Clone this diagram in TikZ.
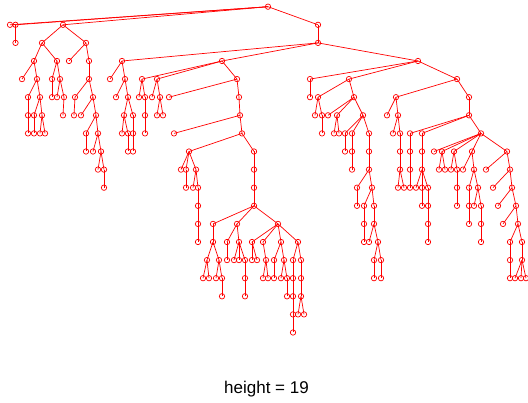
\documentclass[tikz,border=0pt]{standalone}
\usepackage{fontspec}
\setmainfont{Liberation Sans}
\tikzset{
  vtx/.style={circle, draw=red, minimum size=5.4pt, inner sep=0pt, line width=0.7pt},
  edge/.style={red, line width=0.7pt}
}
\newcommand\R[3]{\node[vtx] (#1) at (#2,{6.7+18.1*#3}) {};}
\newcommand\C[4]{\node[vtx] (#1) at (#2,{6.7+18.1*#3}) {}; \draw[edge] (#4.center) -- (#1.center);}
\begin{document}
\begin{tikzpicture}[x=1pt,y=-1pt]
\useasboundingbox (0,0) rectangle (528,403);
\R{r}{268}{0}
% level 1
\C{n1a}{10}{1}{r}\C{n1b}{15.5}{1}{r}\C{n1c}{63}{1}{r}\C{n1d}{318}{1}{r}
% level 2
\C{n2a}{15.5}{2}{n1b}\C{n2b}{42}{2}{n1c}\C{n2c}{86}{2}{n1c}\C{n2d}{318}{2}{n1d}
% level 3
\C{n3a}{34}{3}{n2b}\C{n3b}{57}{3}{n2b}\C{n3c}{69}{3}{n2c}\C{n3d}{89}{3}{n2c}
\C{n3e}{122}{3}{n2d}\C{n3f}{222}{3}{n2d}\C{n3g}{418}{3}{n2d}
% level 4
\C{n4a}{22}{4}{n3a}\C{n4b}{37}{4}{n3a}\C{n4c}{52}{4}{n3b}\C{n4d}{60}{4}{n3b}
\C{n4e}{89}{4}{n3d}\C{n4f}{110}{4}{n3e}\C{n4g}{125}{4}{n3e}
\C{n4h}{142}{4}{n3f}\C{n4i}{157}{4}{n3f}\C{n4j}{237}{4}{n3f}
\C{n4k}{310}{4}{n3g}\C{n4l}{349}{4}{n3g}\C{n4m}{457}{4}{n3g}
% level 5
\C{n5a}{28}{5}{n4b}\C{n5b}{40}{5}{n4b}\C{n5c}{52}{5}{n4c}\C{n5d}{57}{5}{n4d}\C{n5e}{64}{5}{n4d}
\C{n5f}{75}{5}{n4e}\C{n5g}{93}{5}{n4e}\C{n5h}{116}{5}{n4g}\C{n5i}{128}{5}{n4g}
\C{n5j}{139}{5}{n4h}\C{n5k}{145}{5}{n4h}\C{n5l}{152}{5}{n4i}\C{n5m}{160}{5}{n4i}
\C{n5n}{169}{5}{n4j}\C{n5o}{239}{5}{n4j}\C{n5p}{310}{5}{n4k}\C{n5q}{318}{5}{n4l}\C{n5r}{354}{5}{n4l}
\C{n5s}{396}{5}{n4m}\C{n5t}{469}{5}{n4m}
% level 6
\C{n6a}{28}{6}{n5a}\C{n6b}{34}{6}{n5b}\C{n6c}{42}{6}{n5b}\C{n6d}{63}{6}{n5e}\C{n6e}{74}{6}{n5f}
\C{n6f}{81}{6}{n5g}\C{n6g}{96}{6}{n5g}\C{n6h}{124}{6}{n5i}\C{n6i}{133}{6}{n5i}
\C{n6j}{145}{6}{n5k}\C{n6k}{157}{6}{n5m}\C{n6l}{163}{6}{n5m}\C{n6m}{240}{6}{n5o}
\C{n6n}{315}{6}{n5q}\C{n6o}{322}{6}{n5q}\C{n6p}{328}{6}{n5r}\C{n6q}{337}{6}{n5r}\C{n6r}{363}{6}{n5r}
\C{n6s}{387}{6}{n5s}\C{n6t}{398}{6}{n5s}\C{n6u}{469}{6}{n5t}
% level 7
\C{n7a}{28}{7}{n6a}\C{n7b}{34}{7}{n6b}\C{n7c}{40}{7}{n6c}\C{n7d}{45}{7}{n6c}
\C{n7e}{86}{7}{n6g}\C{n7f}{98}{7}{n6g}\C{n7g}{122}{7}{n6h}\C{n7h}{128}{7}{n6h}\C{n7i}{133}{7}{n6i}
\C{n7j}{145}{7}{n6j}\C{n7k}{174}{7}{n6m}\C{n7l}{242}{7}{n6m}
\C{n7m}{322}{7}{n6o}\C{n7n}{334}{7}{n6q}\C{n7o}{339}{7}{n6q}
\C{n7p}{345}{7}{n6r}\C{n7q}{352}{7}{n6r}\C{n7r}{369}{7}{n6r}
\C{n7s}{393}{7}{n6t}\C{n7t}{400}{7}{n6t}
\C{n7u}{410}{7}{n6u}\C{n7v}{422}{7}{n6u}\C{n7w}{481}{7}{n6u}
% level 8
\C{n8a}{86}{8}{n7e}\C{n8b}{93}{8}{n7f}\C{n8c}{101}{8}{n7f}\C{n8d}{128}{8}{n7h}\C{n8e}{133}{8}{n7i}
\C{n8f}{189}{8}{n7l}\C{n8g}{254}{8}{n7l}
\C{n8h}{345}{8}{n7p}\C{n8i}{352}{8}{n7q}\C{n8j}{369}{8}{n7r}
\C{n8k}{400}{8}{n7t}\C{n8l}{410}{8}{n7u}\C{n8m}{422}{8}{n7v}
\C{n8n}{434}{8}{n7w}\C{n8o}{442}{8}{n7w}\C{n8p}{454}{8}{n7w}\C{n8q}{472}{8}{n7w}\C{n8r}{507}{8}{n7w}
% level 9
\C{n9a}{98}{9}{n8c}\C{n9b}{104}{9}{n8c}
\C{n9c}{181}{9}{n8f}\C{n9d}{186}{9}{n8f}\C{n9e}{196}{9}{n8f}\C{n9f}{254}{9}{n8g}
\C{n9g}{352}{9}{n8i}\C{n9h}{369}{9}{n8j}
\C{n9i}{400}{9}{n8k}\C{n9j}{410}{9}{n8l}\C{n9k}{422}{9}{n8m}
\C{n9l}{439}{9}{n8o}\C{n9m}{445}{9}{n8o}\C{n9n}{451}{9}{n8p}\C{n9o}{457}{9}{n8p}
\C{n9p}{463}{9}{n8q}\C{n9q}{474}{9}{n8q}\C{n9r}{486}{9}{n8r}\C{n9s}{510}{9}{n8r}
% level 10
\C{n10a}{104}{10}{n9b}\C{n10b}{186}{10}{n9d}\C{n10c}{193}{10}{n9e}\C{n10d}{198}{10}{n9e}
\C{n10e}{254}{10}{n9f}\C{n10f}{357}{10}{n9h}\C{n10g}{372}{10}{n9h}
\C{n10h}{398}{10}{n9i}\C{n10i}{404}{10}{n9i}\C{n10j}{410}{10}{n9j}
\C{n10k}{416}{10}{n9k}\C{n10l}{422}{10}{n9k}\C{n10m}{428}{10}{n9k}
\C{n10n}{457}{10}{n9o}\C{n10o}{469}{10}{n9q}\C{n10p}{478}{10}{n9q}
\C{n10q}{493}{10}{n9s}\C{n10r}{512}{10}{n9s}
% level 11
\C{n11a}{198}{11}{n10d}\C{n11b}{254}{11}{n10e}\C{n11c}{357}{11}{n10f}
\C{n11d}{364}{11}{n10g}\C{n11e}{374}{11}{n10g}\C{n11f}{422}{11}{n10l}\C{n11g}{428}{11}{n10m}
\C{n11h}{457}{11}{n10n}\C{n11i}{469}{11}{n10o}\C{n11j}{474}{11}{n10p}\C{n11k}{481}{11}{n10p}
\C{n11l}{498}{11}{n10r}\C{n11m}{516}{11}{n10r}
% level 12
\C{n12a}{198}{12}{n11a}\C{n12b}{213}{12}{n11b}\C{n12c}{237}{12}{n11b}\C{n12d}{278}{12}{n11b}
\C{n12e}{364}{12}{n11d}\C{n12f}{374}{12}{n11e}\C{n12g}{428}{12}{n11g}
\C{n12h}{469}{12}{n11i}\C{n12i}{481}{12}{n11k}\C{n12j}{503}{12}{n11m}\C{n12k}{518}{12}{n11m}
% level 13
\C{n13a}{198}{13}{n12a}\C{n13b}{213}{13}{n12b}\C{n13c}{227}{13}{n12c}\C{n13d}{239}{13}{n12c}
\C{n13e}{252}{13}{n12d}\C{n13f}{263}{13}{n12d}\C{n13g}{281}{13}{n12d}\C{n13h}{298}{13}{n12d}
\C{n13i}{364}{13}{n12e}\C{n13j}{369}{13}{n12f}\C{n13k}{378}{13}{n12f}\C{n13l}{428}{13}{n12g}
\C{n13m}{481}{13}{n12i}\C{n13n}{510}{13}{n12k}\C{n13o}{522}{13}{n12k}
% level 14
\C{n14a}{207}{14}{n13b}\C{n14b}{219}{14}{n13b}\C{n14c}{227}{14}{n13c}
\C{n14d}{234}{14}{n13d}\C{n14e}{239}{14}{n13d}\C{n14f}{245}{14}{n13d}
\C{n14g}{252}{14}{n13e}\C{n14h}{257}{14}{n13e}\C{n14i}{266}{14}{n13f}
\C{n14j}{274}{14}{n13g}\C{n14k}{284}{14}{n13g}\C{n14l}{293}{14}{n13h}\C{n14m}{301}{14}{n13h}
\C{n14n}{374}{14}{n13k}\C{n14o}{381}{14}{n13k}\C{n14p}{510}{14}{n13n}\C{n14q}{522}{14}{n13o}
% level 15
\C{n15a}{203}{15}{n14a}\C{n15b}{209}{15}{n14a}\C{n15c}{216}{15}{n14b}\C{n15d}{222}{15}{n14b}
\C{n15e}{245}{15}{n14f}\C{n15f}{263}{15}{n14i}\C{n15g}{268}{15}{n14i}
\C{n15h}{274}{15}{n14j}\C{n15i}{281}{15}{n14k}\C{n15j}{287}{15}{n14k}
\C{n15k}{293}{15}{n14l}\C{n15l}{301}{15}{n14m}
\C{n15m}{374}{15}{n14n}\C{n15n}{381}{15}{n14o}
\C{n15o}{510}{15}{n14p}\C{n15p}{515}{15}{n14q}\C{n15q}{521}{15}{n14q}\C{n15r}{526}{15}{n14q}
% level 16
\C{n16a}{222}{16}{n15d}\C{n16b}{245}{16}{n15e}\C{n16c}{287}{16}{n15j}\C{n16d}{293}{16}{n15k}\C{n16e}{301}{16}{n15l}
% level 17
\C{n17a}{293}{17}{n16d}\C{n17b}{298}{17}{n16e}\C{n17c}{304}{17}{n16e}
% level 18
\C{n18a}{293}{18}{n17a}
\node[anchor=base, inner sep=0pt, font=\fontsize{17}{20}\selectfont] (lbl) at (266.5,394) {height = 19};
\end{tikzpicture}
\end{document}
